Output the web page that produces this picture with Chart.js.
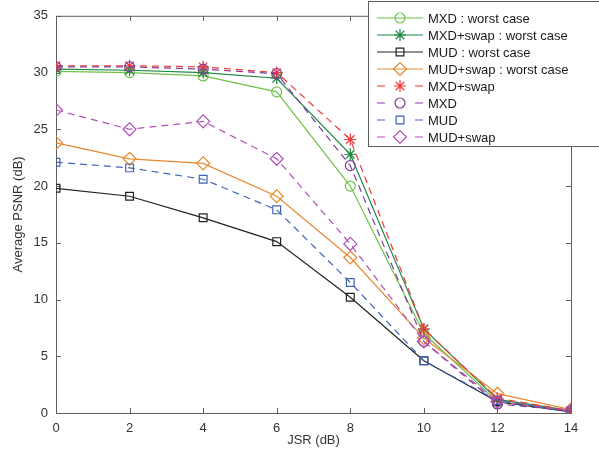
<!DOCTYPE html>
<html>
<head>
<meta charset="utf-8">
<script src="https://cdn.jsdelivr.net/npm/chart.js@4/dist/chart.umd.min.js"></script>
<style>
  html, body { margin: 0; padding: 0; background: #fff; }
  #wrap { width: 599px; height: 457px; }
</style>
</head>
<body>
<div id="wrap"><canvas id="psnr"></canvas></div>
<script>
const jsr = [0, 2, 4, 6, 8, 10, 12, 14];
const yTicks = [0, 5, 10, 15, 20, 25, 30, 35];

const mxdWorst     = [30.1, 30.0, 29.7, 28.3, 20.0, 7.0, 1.0, 0.2];
const mxdSwapWorst = [30.3, 30.2, 30.0, 29.5, 22.8, 7.4, 1.2, 0.2];
const mudWorst     = [19.8, 19.1, 17.2, 15.1, 10.2, 4.6, 1.0, 0.1];
const mudSwapWorst = [23.8, 22.4, 22.0, 19.1, 13.7, 6.6, 1.7, 0.3];
const mxdSwap      = [30.6, 30.6, 30.5, 30.0, 24.1, 7.4, 1.3, 0.2];
const mxd          = [30.5, 30.5, 30.3, 29.9, 21.8, 6.3, 0.8, 0.2];
const mud          = [22.1, 21.6, 20.6, 17.9, 11.5, 4.6, 1.1, 0.1];
const mudSwap      = [26.7, 25.0, 25.7, 22.4, 14.9, 6.3, 1.0, 0.2];

const FONT = "'Liberation Sans', Arial, sans-serif";
const DASH = [7, 5];

// label, values, colour, marker, dashed, marker radius
const series = [
  ['MXD : worst case', mxdWorst, '#6fc24b', 'circle', false, 5],
  ['MXD+swap : worst case', mxdSwapWorst, '#1d8744', 'star', false, 6],
  ['MUD : worst case', mudWorst, '#222222', 'rect', false, 5.5],
  ['MUD+swap : worst case', mudSwapWorst, '#e8892e', 'rectRot', false, 6.5],
  ['MXD+swap', mxdSwap, '#f03a3a', 'star', true, 6],
  ['MXD', mxd, '#7d3d9b', 'circle', true, 5],
  ['MUD', mud, '#4063b6', 'rect', true, 5.5],
  ['MUD+swap', mudSwap, '#b350b9', 'rectRot', true, 6.5]
];

const datasets = series.map(([label, vals, c, shape, dashed, r], i) => ({
  label,
  data: jsr.map((x, j) => ({ x, y: vals[j] })),
  borderColor: c,
  backgroundColor: 'rgba(0,0,0,0)',
  borderWidth: 1.2,
  borderDash: dashed ? DASH : [],
  pointStyle: shape,
  pointRadius: r,
  pointBorderColor: c,
  pointBackgroundColor: 'rgba(0,0,0,0)',
  pointBorderWidth: 1.2,
  tension: 0,
  order: series.length - i
}));

/* box around the plot with inward ticks on all four sides, like matlab */
const frame = {
  id: 'frame',
  beforeDatasetsDraw(chart) {
    const { ctx, chartArea: a, scales: { x, y } } = chart;
    ctx.save();
    ctx.strokeStyle = '#5e5e5e';
    ctx.lineWidth = 1;
    ctx.strokeRect(a.left + 0.5, a.top + 0.5, a.right - a.left, a.bottom - a.top);
    ctx.beginPath();
    jsr.forEach(v => {
      const px = Math.round(x.getPixelForValue(v)) + 0.5;
      ctx.moveTo(px, a.bottom); ctx.lineTo(px, a.bottom - 5);
      ctx.moveTo(px, a.top); ctx.lineTo(px, a.top + 5);
    });
    yTicks.forEach(v => {
      const py = Math.round(y.getPixelForValue(v)) + 0.5;
      ctx.moveTo(a.left, py); ctx.lineTo(a.left + 5, py);
      ctx.moveTo(a.right, py); ctx.lineTo(a.right - 5, py);
    });
    ctx.stroke();
    ctx.restore();
  }
};

/* matlab-style legend box in the top right corner */
const legendBox = {
  id: 'legendBox',
  afterDraw(chart) {
    const { ctx } = chart;
    const x0 = 368, y0 = 1, rowH = 17, firstY = 18;
    ctx.save();
    ctx.fillStyle = '#fff';
    ctx.fillRect(x0, y0, 640 - x0, 147 - y0);
    ctx.strokeStyle = '#5e5e5e';
    ctx.lineWidth = 1;
    ctx.strokeRect(x0 + 0.5, y0 + 0.5, 640 - x0, 146 - y0);
    chart.data.datasets.forEach((ds, i) => {
      const yy = firstY + i * rowH;
      ctx.strokeStyle = ds.borderColor;
      ctx.lineWidth = 1.2;
      ctx.beginPath();
      if (ds.borderDash.length) {
        ctx.moveTo(377, yy); ctx.lineTo(385, yy);
        ctx.moveTo(415, yy); ctx.lineTo(423, yy);
      } else {
        ctx.moveTo(377, yy); ctx.lineTo(423, yy);
      }
      ctx.stroke();
      ctx.strokeStyle = ds.borderColor;
      ctx.fillStyle = 'rgba(0,0,0,0)';
      Chart.helpers.drawPoint(ctx, {
        pointStyle: ds.pointStyle, radius: ds.pointRadius, borderWidth: 1.2, rotation: 0
      }, 400, yy);
      ctx.fillStyle = '#1a1a1a';
      ctx.font = '13px ' + FONT;
      ctx.textBaseline = 'middle';
      ctx.fillText(ds.label, 428, yy + 1);
    });
    ctx.restore();
  }
};

new Chart(document.getElementById('psnr'), {
  type: 'line',
  data: { datasets },
  options: {
    responsive: true,
    maintainAspectRatio: false,
    animation: false,
    layout: { padding: { left: 0, top: 12, right: 28, bottom: 0 } },
    plugins: { legend: { display: false }, tooltip: { enabled: false } },
    scales: {
      x: {
        type: 'linear', min: 0, max: 14,
        afterFit: s => { s.height = 44; },
        afterBuildTicks: s => { s.ticks = jsr.map(v => ({ value: v })); },
        grid: { display: false, drawTicks: false },
        border: { display: false },
        ticks: { color: '#333', padding: 8, font: { family: FONT, size: 13 } },
        title: { display: true, text: 'JSR (dB)', color: '#333', padding: { top: 0, bottom: 9 }, font: { family: FONT, size: 13 } }
      },
      y: {
        type: 'linear', min: 0, max: 35,
        afterFit: s => { s.width = 56; },
        afterBuildTicks: s => { s.ticks = yTicks.map(v => ({ value: v })); },
        grid: { display: false, drawTicks: false },
        border: { display: false },
        ticks: { color: '#333', padding: 8, font: { family: FONT, size: 13 } },
        title: { display: true, text: 'Average PSNR (dB)', color: '#333', padding: { top: 11, bottom: 0 }, font: { family: FONT, size: 13 } }
      }
    }
  },
  plugins: [frame, legendBox]
});
</script>
</body>
</html>
